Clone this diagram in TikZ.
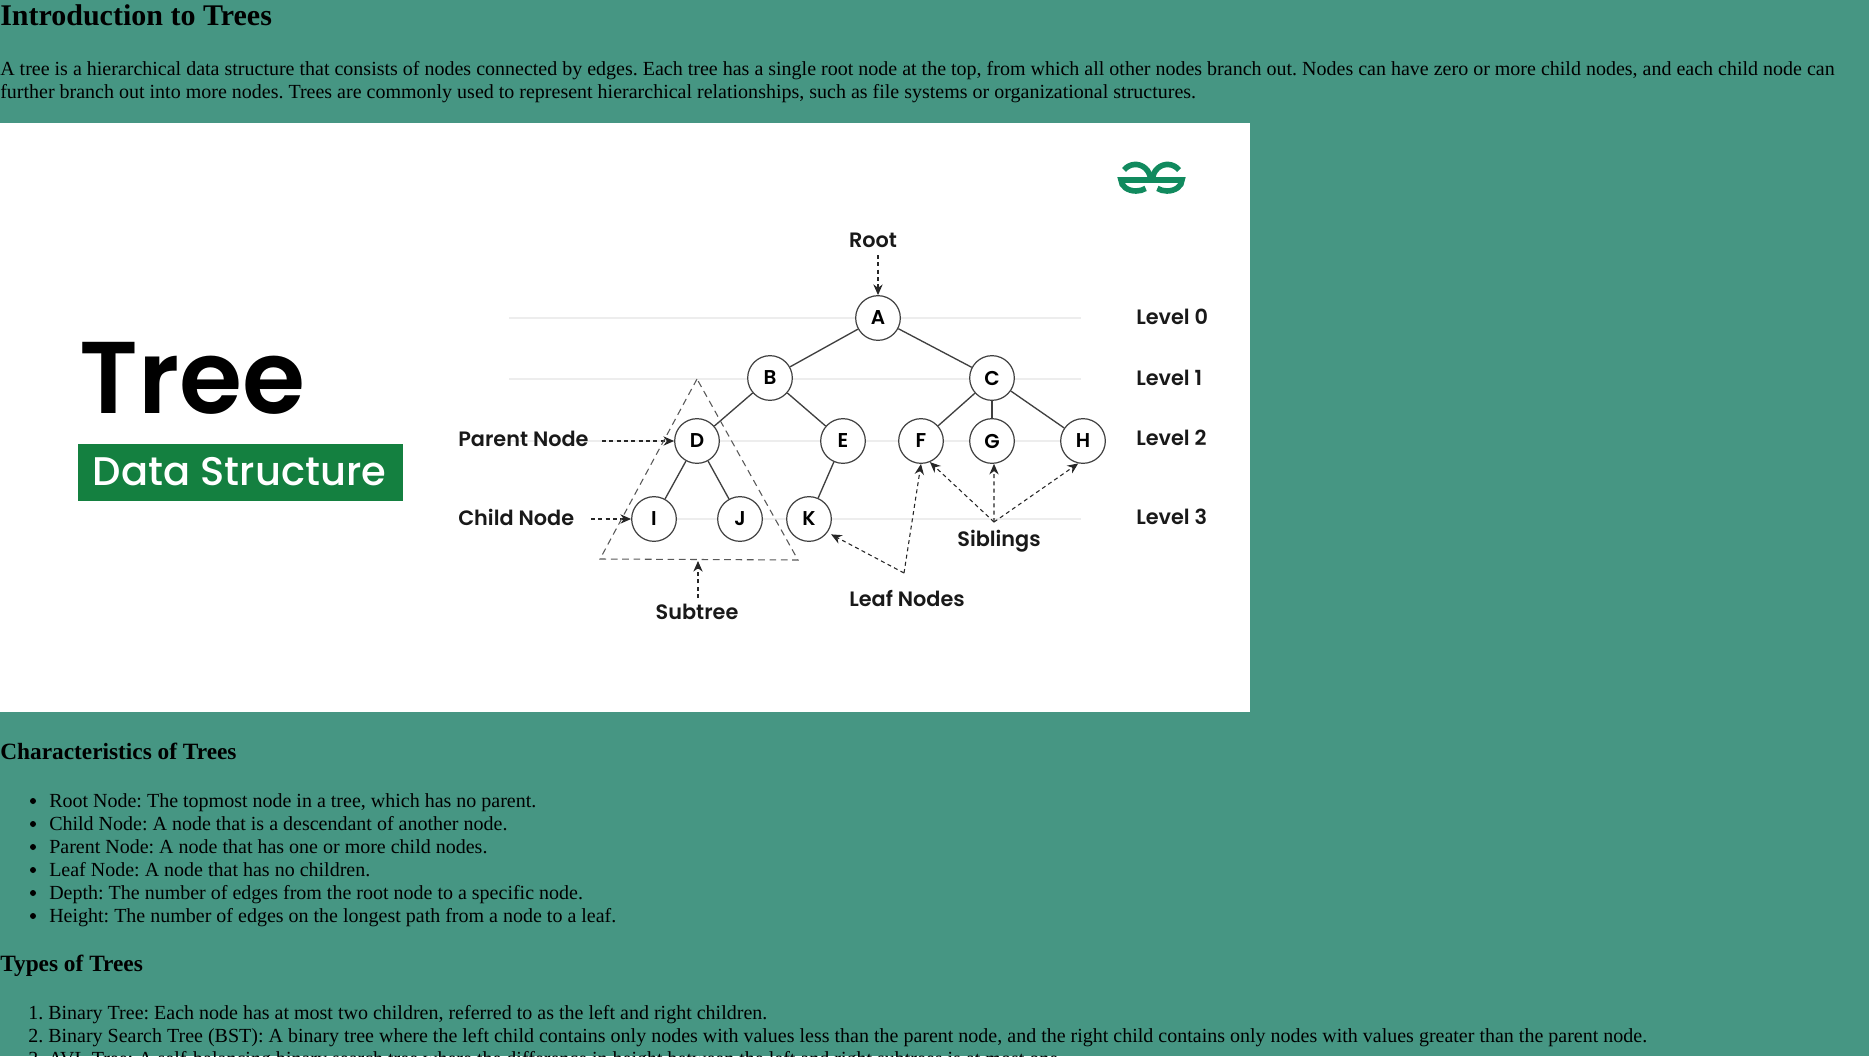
\documentclass[tikz,border=0pt]{standalone}
\usepackage{fontspec}
\setmainfont{Liberation Serif}
\newfontfamily\popfont{Poppins Medium}
\newfontfamily\popbold{Poppins SemiBold}
\usetikzlibrary{arrows.meta}
\definecolor{pagebg}{HTML}{469683}
\definecolor{gfggreen}{HTML}{118A5E}
\definecolor{bannergreen}{HTML}{148040}
\frenchspacing

\begin{document}
\begin{tikzpicture}[x=0.75pt,y=-0.75pt,every node/.style={inner sep=0pt},
  txt/.style={anchor=base west,font=\fontsize{15}{18}\selectfont},
  head/.style={anchor=base west,font=\fontsize{17.5}{21}\selectfont\bfseries},
  tnode/.style={draw=black!75,fill=white,circle,line width=0.9pt,minimum size=33.5pt,font=\popbold\fontsize{15}{18}\selectfont},
  lbl/.style={font=\popbold\fontsize{15.6}{18}\selectfont,text=black!90},
  edge/.style={draw=black!75,line width=1pt},
  guide/.style={draw=black!7,line width=0.8pt},
  dashline/.style={draw=black!85,dash pattern=on 3pt off 2.5pt,line width=0.8pt},
  ptr/.style={dashline,-{Stealth[length=8pt,width=7pt]}},
  logo/.style={draw=gfggreen,line width=4.2pt}]
  \useasboundingbox (0,0) rectangle (1869,1056);
  \fill[pagebg] (0,0) rectangle (1869,1056);
  \fill[white] (0,123) rectangle (1250,712);

  % page text
  \node[anchor=base west,font=\fontsize{22.5}{27}\selectfont\bfseries] (title) at (0,26) {Introduction to Trees};
  \node[txt] (para1) at (0,75) {A tree is a hierarchical data structure that consists of nodes connected by edges. Each tree has a single root node at the top, from which all other nodes branch out. Nodes can have zero or more child nodes, and each child node can};
  \node[txt] (para2) at (0,98.5) {further branch out into more nodes. Trees are commonly used to represent hierarchical relationships, such as file systems or organizational structures.};
  \node[head] (chars) at (0,759.5) {Characteristics of Trees};
  \fill (33,801) circle[radius=3] (33,824) circle[radius=3] (33,847) circle[radius=3] (33,870) circle[radius=3] (33,893) circle[radius=3] (33,916) circle[radius=3];
  \node[txt] (c1) at (49,807) {Root Node: The topmost node in a tree, which has no parent.};
  \node[txt] (c2) at (49,830) {Child Node: A node that is a descendant of another node.};
  \node[txt] (c3) at (49,853) {Parent Node: A node that has one or more child nodes.};
  \node[txt] (c4) at (49,876) {Leaf Node: A node that has no children.};
  \node[txt] (c5) at (49,899) {Depth: The number of edges from the root node to a specific node.};
  \node[txt] (c6) at (49,922) {Height: The number of edges on the longest path from a node to a leaf.};
  \node[head] (types) at (0,971.5) {Types of Trees};
  \node[txt] (t1) at (28,1019) {1. Binary Tree: Each node has at most two children, referred to as the left and right children.};
  \node[txt] (t2) at (28,1042) {2. Binary Search Tree (BST): A binary tree where the left child contains only nodes with values less than the parent node, and the right child contains only nodes with values greater than the parent node.};
  \begin{scope}
    \clip (0,1040) rectangle (1869,1056);
    \node[txt] (t3) at (28,1065) {3. AVL Tree: A self-balancing binary search tree where the difference in height between the left and right subtrees is at most one.};
  \end{scope}

  % left banner
  \node[anchor=base west,font=\popbold\fontsize{76.5}{90}\selectfont] (tree) at (79.5,413) {Tree};
  \fill[bannergreen] (78,444) rectangle (403,501);
  \node[font=\popfont\fontsize{30}{36}\selectfont,text=white] (ds) at (239.5,472) {Data Structure};

  % logo
  \draw[logo] (1124,170) arc[start angle=-140,end angle=0,x radius=15,y radius=15.5] -- (1121,180)
    arc[start angle=-180,end angle=-310,x radius=15,y radius=11];
  \draw[logo] (1179,170) arc[start angle=-40,end angle=-180,x radius=15,y radius=15.5] -- (1182,180)
    arc[start angle=0,end angle=130,x radius=15,y radius=11];

  % level guides
  \draw[guide] (509,318) -- (1081,318);
  \draw[guide] (509,379) -- (1081,379);
  \draw[guide] (509,441) -- (1081,441);
  \draw[guide] (632,519) -- (1081,519);

  % tree
  \node[tnode] (A) at (878,318) {A};
  \node[tnode] (B) at (770,378) {B};
  \node[tnode] (C) at (992,378) {C};
  \node[tnode] (D) at (697,441) {D};
  \node[tnode] (E) at (843,441) {E};
  \node[tnode] (F) at (921,441) {F};
  \node[tnode] (G) at (992,441) {G};
  \node[tnode] (H) at (1083,441) {H};
  \node[tnode] (I) at (654,519) {I};
  \node[tnode] (J) at (740,519) {J};
  \node[tnode] (K) at (809,519) {K};
  \draw[edge] (A)--(B); \draw[edge] (A)--(C); \draw[edge] (B)--(D); \draw[edge] (B)--(E);
  \draw[edge] (C)--(F); \draw[edge] (C)--(G); \draw[edge] (C)--(H);
  \draw[edge] (D)--(I); \draw[edge] (D)--(J); \draw[edge] (E)--(K);

  % labels
  \node[lbl] (root) at (873,240) {Root};
  \node[lbl,anchor=west] (parent) at (458,439) {Parent Node};
  \node[lbl,anchor=west] (child) at (458,517) {Child Node};
  \node[lbl] (subtree) at (697,612) {Subtree};
  \node[lbl] (leaf) at (907,598) {Leaf Nodes};
  \node[lbl] (sib) at (999,541) {Siblings};
  \node[lbl,anchor=west] (lev0) at (1136,317) {Level 0};
  \node[lbl,anchor=west] (lev1) at (1136,378) {Level 1};
  \node[lbl,anchor=west] (lev2) at (1136,438) {Level 2};
  \node[lbl,anchor=west] (lev3) at (1136,517) {Level 3};

  % pointers
  \coordinate (rootS) at (878,255);
  \coordinate (parentE) at (602,441);
  \coordinate (childE) at (591,519);
  \coordinate (subS) at (698,598);
  \coordinate (subT) at (698,561);
  \coordinate (leafpt) at (904,573);
  \coordinate (sibpt) at (994,522);
  \coordinate (apex) at (697,379);
  \coordinate (baseL) at (600,559);
  \coordinate (baseR) at (798,560);
  \draw[ptr] (rootS) -- (A);
  \draw[ptr] (parentE) -- (D);
  \draw[ptr] (childE) -- (I);
  \draw[ptr] (subS) -- (subT);
  \draw[ptr,shorten >=3pt] (leafpt) -- (K.-36);
  \draw[ptr] (leafpt) -- (F.south);
  \draw[ptr] (sibpt) -- (F.-67);
  \draw[ptr] (sibpt) -- (G.-85);
  \draw[ptr] (sibpt) -- (H.-102);
  \draw[dashline,draw=black!65,dash pattern=on 5pt off 3.5pt] (apex) -- (baseL) -- (baseR) -- cycle;
\end{tikzpicture}
\end{document}
